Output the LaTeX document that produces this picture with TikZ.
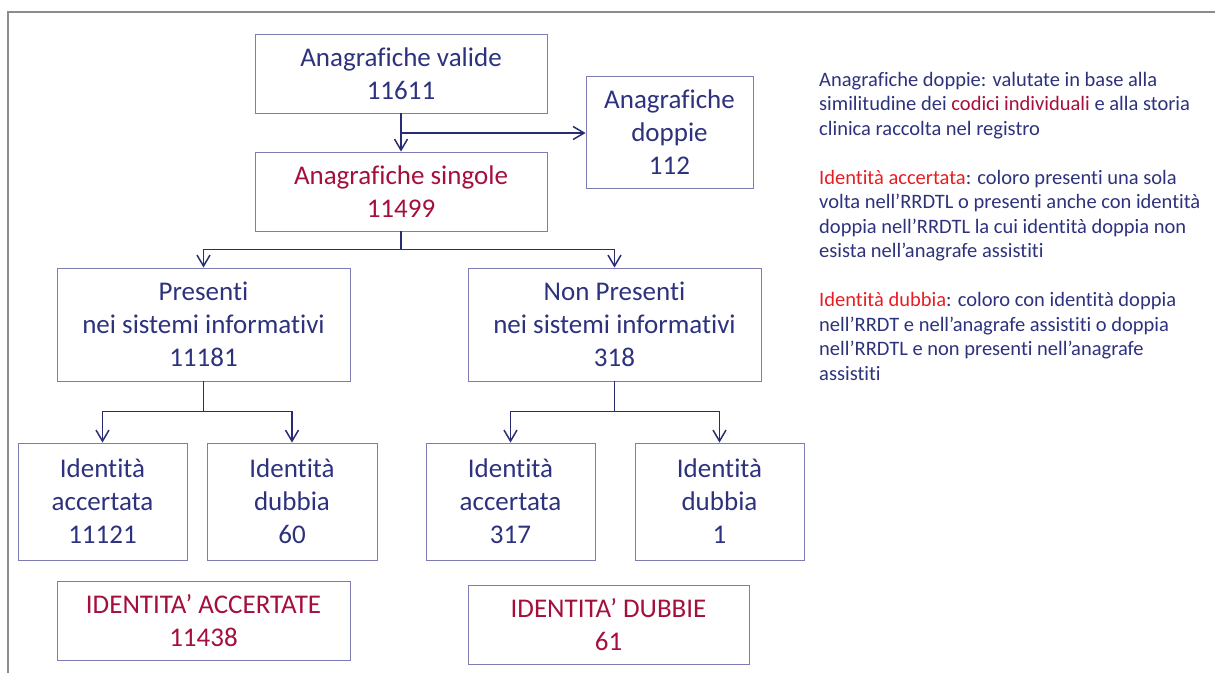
\documentclass[tikz,border=0pt]{standalone}
\usepackage{fontspec}
\setmainfont{Carlito}[Ligatures={NoCommon}]
\usetikzlibrary{arrows.meta,positioning}
\definecolor{navytext}{RGB}{45,50,125}
\definecolor{boxline}{RGB}{125,125,180}
\definecolor{linkblue}{RGB}{40,45,115}
\definecolor{crimson}{RGB}{165,15,60}
\definecolor{legred}{RGB}{230,30,35}
\definecolor{framegray}{RGB}{140,140,140}
\begin{document}
\begin{tikzpicture}[
        x=1pt, y=-1pt,
        box/.style={draw=boxline, line width=0.9pt, inner sep=0pt, align=center,
          text=navytext, font=\fontsize{27}{33}\selectfont},
        link/.style={draw=linkblue, line width=1.5pt, -{Straight Barb[length=11pt,width=13pt]}}
      ]
      \useasboundingbox (0,0) rectangle (1215,673);
      \draw[framegray, line width=1.2pt] (8,673) -- (8,12) -- (1215,12);
      \node[box, minimum width=292pt, minimum height=79pt] (valide) at (401,73.5) {Anagrafiche valide\\11611};
      \node[box, minimum width=167pt, minimum height=112pt] (doppie) at (669.5,132) {Anagrafiche\\doppie\\112};
      \node[box, minimum width=292pt, minimum height=79pt, text=crimson] (singole) at (401,191.5) {Anagrafiche singole\\11499};
      \node[box, minimum width=293pt, minimum height=113pt] (pres) at (203.5,324.5) {Presenti\\nei sistemi informativi\\11181};
      \node[box, minimum width=293pt, minimum height=113pt] (nonpres) at (614.5,324.5) {Non Presenti\\nei sistemi informativi\\318};
      \node[box, minimum width=169pt, minimum height=117pt] (acc1) at (102.5,501.5) {Identità\\accertata\\11121};
      \node[box, minimum width=170pt, minimum height=117pt] (dub1) at (292,501.5) {Identità\\dubbia\\60};
      \node[box, minimum width=169pt, minimum height=117pt] (acc2) at (510.5,501.5) {Identità\\accertata\\317};
      \node[box, minimum width=169pt, minimum height=117pt] (dub2) at (719.5,501.5) {Identità\\dubbia\\1};
      \node[box, minimum width=293pt, minimum height=79pt, text=crimson] (totacc) at (203.5,620.5) {IDENTITA’ ACCERTATE\\11438};
      \node[box, minimum width=281pt, minimum height=79pt, text=crimson] (totdub) at (608.5,624.5) {IDENTITA’ DUBBIE\\61};
      \node[anchor=north west, inner sep=0pt, align=left, text=navytext,
        font=\fontsize{20.5}{24.5}\selectfont] (legend) at (819,72) {Anagrafiche doppie: valutate in base alla\\
        similitudine dei \textcolor{crimson}{codici individuali} e alla storia\\
        clinica raccolta nel registro\\[24.5pt]
        \textcolor{legred}{Identità accertata}: coloro presenti una sola\\
        volta nell’RRDTL o presenti anche con identità\\
        doppia nell’RRDTL la cui identità doppia non\\
        esista nell’anagrafe assistiti\\[24.5pt]
        \textcolor{legred}{Identità dubbia}: coloro con identità doppia\\
        nell’RRDT e nell’anagrafe assistiti o doppia\\
        nell’RRDTL e non presenti nell’anagrafe\\
        assistiti};
      % connectors
      \coordinate (split) at (401,133);
      \draw[link] (valide) -- (singole);
      \draw[link] (split) -- (split -| doppie.west);
      \draw[link] (singole.south) -- ++(0,18) -| (pres.north);
      \draw[link] (singole.south) -- ++(0,18) -| (nonpres.north);
      \draw[link] (pres.south) -- ++(0,30) -| (acc1.north);
      \draw[link] (pres.south) -- ++(0,30) -| (dub1.north);
      \draw[link] (nonpres.south) -- ++(0,30) -| (acc2.north);
      \draw[link] (nonpres.south) -- ++(0,30) -| (dub2.north);
    \end{tikzpicture}
\end{document}
